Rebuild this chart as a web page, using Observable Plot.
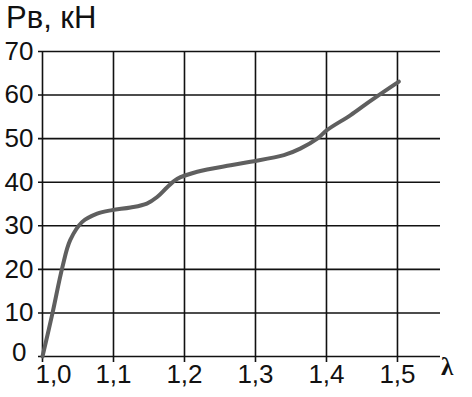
<!DOCTYPE html>
<html>
<head>
<meta charset="utf-8">
<script src="https://cdn.jsdelivr.net/npm/d3@7"></script>
<script src="https://cdn.jsdelivr.net/npm/@observablehq/plot@0.6"></script>
<style>
  html, body { margin: 0; padding: 0; background: #fff; }
  #wrap { position: relative; width: 472px; height: 397px; overflow: hidden; }
  #title { position: absolute; left: 6px; top: 1px; font: 31px/1.1 "Liberation Sans", Arial, sans-serif; color: #111; white-space: pre; }
  #lambda { position: absolute; left: 441px; top: 353px; font: bold 25px "Liberation Serif", "Times New Roman", serif; color: #111; }
  #chart { position: absolute; left: 0; top: 0; }
</style>
</head>
<body>
<div id="wrap">
  <div id="chart"></div>
  <div id="title">Pв, кН</div>
  <div id="lambda">λ</div>
</div>
<script>
const lambdaVals = [1.0, 1.014, 1.028, 1.039, 1.056, 1.077, 1.098, 1.124, 1.147, 1.1615, 1.176, 1.19, 1.218, 1.265, 1.293, 1.34, 1.363, 1.387, 1.401, 1.434, 1.457, 1.481, 1.502];
const forceVals  = [0, 9.9, 20.5, 26.7, 30.9, 32.8, 33.6, 34.2, 35.1, 36.6, 38.9, 40.8, 42.4, 43.9, 44.7, 46.2, 47.7, 50.0, 52.0, 55.4, 58.1, 60.8, 63.1];
const xTicks = [1.0, 1.1, 1.2, 1.3, 1.4, 1.5];
const yTicks = [0, 10, 20, 30, 40, 50, 60, 70];

const data = lambdaVals.map((x, i) => ({x, y: forceVals[i]}));
const fmt = d => d.toFixed(1).replace(".", ",");

const chart = Plot.plot({
  width: 472,
  height: 397,
  marginLeft: 38,
  marginRight: 32,
  marginTop: 51,
  marginBottom: 41,
  style: {fontFamily: "'Liberation Sans', Arial, sans-serif", fontSize: "26px", color: "#111", background: "#fff"},
  x: {domain: [0.99437, 1.5606], ticks: xTicks},
  y: {domain: [0, 70], ticks: yTicks},
  marks: [
    Plot.ruleY(yTicks, {stroke: "#111", strokeWidth: 1.6}),
    Plot.ruleX(xTicks, {y1: 0, y2: 70, stroke: "#111", strokeWidth: 1.6}),
    Plot.axisX({ticks: xTicks, tickSize: 6, stroke: "#111", strokeWidth: 1.6, text: null, label: null}),
    Plot.axisX({ticks: xTicks.slice(1), tickFormat: fmt, tickSize: 0, tickPadding: 8, label: null, fontSize: 26}),
    Plot.axisX({ticks: xTicks.slice(0, 1), tickFormat: fmt, tickSize: 0, tickPadding: 8, dx: 11, label: null, fontSize: 26}),
    Plot.axisY({ticks: yTicks.slice(1), tickSize: 0, tickPadding: 5, label: null, fontSize: 26}),
    Plot.axisY({ticks: yTicks.slice(0, 1), tickSize: 0, tickPadding: 5, dx: -7, dy: -4, label: null, fontSize: 26}),
    Plot.line(data, {x: "x", y: "y", curve: "catmull-rom", stroke: "#5f5f5f", strokeWidth: 4, strokeLinecap: "round"})
  ]
});
document.getElementById("chart").appendChild(chart);
</script>
</body>
</html>
